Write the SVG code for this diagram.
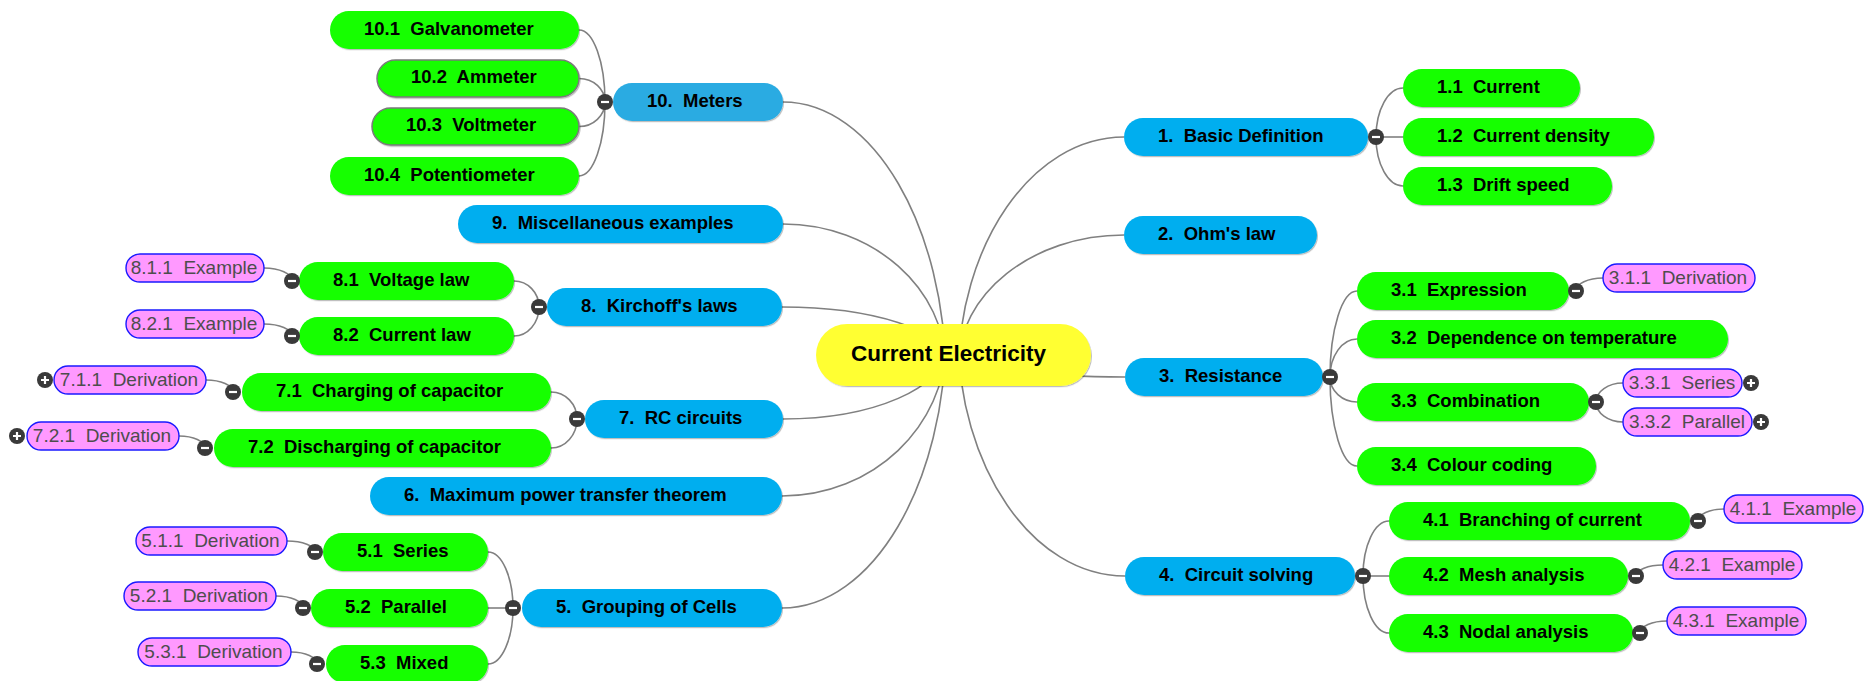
<svg xmlns="http://www.w3.org/2000/svg" xmlns:xlink="http://www.w3.org/1999/xlink" width="1873" height="681" viewBox="0 0 1873 681" xml:space="preserve">
<style>
.c{fill:none;stroke:#808080;stroke-width:1.6}
.ctr{fill:#ffff33;filter:url(#sh)}
.l1{fill:#00aeef;filter:url(#sh)}
.l1m{fill:#29abe2;filter:url(#sh)}
.l2{fill:#12ff00;filter:url(#sh)}
.l2b{fill:#12ff00;stroke:#7a7a7a;stroke-width:1.5;filter:url(#sh)}
.pk{fill:#ff99ff;stroke:#1a1aff;stroke-width:1.4}
text{font-family:"Liberation Sans",Arial,sans-serif;white-space:pre}
.t{font-size:18.5px;font-weight:bold;fill:#000}
.tc{font-size:22.5px;font-weight:bold;fill:#000}
.tp{font-size:19px;fill:#4d4d4d;text-anchor:middle}
.bc{fill:#3a3a3a}
.bs{stroke:#fff;stroke-width:2.2;fill:none}
</style>
<defs>
<filter id="sh" x="-5%" y="-20%" width="110%" height="150%">
<feDropShadow dx="1" dy="1.2" stdDeviation="0.6" flood-color="#000" flood-opacity="0.25"/>
</filter>
<g id="minus"><circle class="bc" r="8"/><path class="bs" d="M-4 0H4"/></g>
<g id="plus"><circle class="bc" r="8"/><path class="bs" d="M-4 0H4M0 -4V4"/></g>
</defs>
<rect width="1873" height="681" fill="#fff"/>

<g id="connectors">
<!-- central topic to main branches -->
<path class="c" d="M783 102C873 102 946 226.6 946 380.3"/>
<path class="c" d="M783 224C873 224 946 288.5 946 368.1"/>
<path class="c" d="M782 307C872.6 307 946 330.6 946 359.8"/>
<path class="c" d="M783 419C873 419 946 387.5 946 348.6"/>
<path class="c" d="M782 496C872.6 496 946 426.6 946 340.9"/>
<path class="c" d="M782 608C872.6 608 946 483.4 946 329.7"/>
<path class="c" d="M1124 137C1032.3 137 958 244.4 958 376.8"/>
<path class="c" d="M1124 235C1032.3 235 958 294.1 958 367"/>
<path class="c" d="M1125 377C1032.8 377 958 366.2 958 352.8"/>
<path class="c" d="M1125 576C1032.8 576 958 467.2 958 332.9"/>
<!-- 1 -->
<path class="c" d="M1403 88C1388.1 88 1376 109.9 1376 137"/>
<path class="c" d="M1376 137H1403"/>
<path class="c" d="M1403 186C1388.1 186 1376 164.1 1376 137"/>
<!-- 3 -->
<path class="c" d="M1357 291C1342.1 291 1330 329.5 1330 377"/>
<path class="c" d="M1357 339C1342.1 339 1330 356 1330 377"/>
<path class="c" d="M1357 402C1342.1 402 1330 390.8 1330 377"/>
<path class="c" d="M1357 466C1342.1 466 1330 426.2 1330 377"/>
<path class="c" d="M1603 278C1588.1 278 1576 283.8 1576 291"/>
<path class="c" d="M1623 383C1608.1 383 1596 391.5 1596 402"/>
<path class="c" d="M1623 422C1608.1 422 1596 413 1596 402"/>
<!-- 4 -->
<path class="c" d="M1389 521C1374.6 521 1363 545.6 1363 576"/>
<path class="c" d="M1363 576H1389"/>
<path class="c" d="M1389 633C1374.6 633 1363 607.5 1363 576"/>
<path class="c" d="M1724 509C1709.6 509 1698 514.4 1698 521"/>
<path class="c" d="M1663 565C1648.1 565 1636 569.9 1636 576"/>
<path class="c" d="M1667 621C1652.1 621 1640 626.4 1640 633"/>
<!-- 10 -->
<path class="c" d="M579 30C593.4 30 605 62.2 605 102"/>
<path class="c" d="M579 78.5C593.4 78.5 605 89 605 102"/>
<path class="c" d="M579 126.5C593.4 126.5 605 115.5 605 102"/>
<path class="c" d="M579 176C593.4 176 605 142.9 605 102"/>
<!-- 8 -->
<path class="c" d="M514 281C527.8 281 539 292.6 539 307"/>
<path class="c" d="M514 336C527.8 336 539 323 539 307"/>
<path class="c" d="M264 268C279.5 268 292 273.8 292 281"/>
<path class="c" d="M264 324C279.5 324 292 329.4 292 336"/>
<!-- 7 -->
<path class="c" d="M551 392C565.4 392 577 404.1 577 419"/>
<path class="c" d="M551 448C565.4 448 577 435 577 419"/>
<path class="c" d="M206 380C220.9 380 233 385.4 233 392"/>
<path class="c" d="M179 436C193.4 436 205 441.4 205 448"/>
<!-- 5 -->
<path class="c" d="M488 552C501.8 552 513 577.1 513 608"/>
<path class="c" d="M488 608H513"/>
<path class="c" d="M488 664C501.8 664 513 638.9 513 608"/>
<path class="c" d="M287 541C302.5 541 315 545.9 315 552"/>
<path class="c" d="M276 596C290.9 596 303 601.4 303 608"/>
<path class="c" d="M291 652C305.4 652 317 657.4 317 664"/>
</g>

<g id="central">
<rect class="ctr" x="816" y="324" width="275" height="62" rx="31"/>
<text class="tc" x="851" y="361">Current Electricity</text>
</g>

<!-- right side -->
<g id="n1"><rect class="l1" x="1124" y="118" width="244" height="38" rx="19"/><text class="t" x="1158" y="141.6">1.  Basic Definition</text><use href="#minus" x="1376" y="137"/></g>
<g id="n1-1"><rect class="l2" x="1403" y="69" width="177" height="38" rx="19"/><text class="t" x="1437" y="92.6">1.1  Current</text></g>
<g id="n1-2"><rect class="l2" x="1403" y="118" width="251" height="38" rx="19"/><text class="t" x="1437" y="141.6">1.2  Current density</text></g>
<g id="n1-3"><rect class="l2" x="1403" y="167" width="209" height="38" rx="19"/><text class="t" x="1437" y="190.6">1.3  Drift speed</text></g>
<g id="n2"><rect class="l1" x="1124" y="216" width="193" height="38" rx="19"/><text class="t" x="1158" y="239.6">2.  Ohm's law</text></g>
<g id="n3"><rect class="l1" x="1125" y="358" width="198" height="38" rx="19"/><text class="t" x="1159" y="381.6">3.  Resistance</text><use href="#minus" x="1330" y="377"/></g>
<g id="n3-1"><rect class="l2" x="1357" y="272" width="212" height="38" rx="19"/><text class="t" x="1391" y="295.6">3.1  Expression</text><use href="#minus" x="1576" y="291"/></g>
<g id="n3-1-1"><rect class="pk" x="1603" y="264" width="152" height="28" rx="14"/><text class="tp" x="1678" y="283.5">3.1.1  Derivation</text></g>
<g id="n3-2"><rect class="l2" x="1357" y="320" width="371" height="38" rx="19"/><text class="t" x="1391" y="343.6">3.2  Dependence on temperature</text></g>
<g id="n3-3"><rect class="l2" x="1357" y="383" width="232" height="38" rx="19"/><text class="t" x="1391" y="406.6">3.3  Combination</text><use href="#minus" x="1596" y="402"/></g>
<g id="n3-3-1"><rect class="pk" x="1623" y="369" width="119" height="28" rx="14"/><text class="tp" x="1682" y="388.5">3.3.1  Series</text><use href="#plus" x="1751" y="383"/></g>
<g id="n3-3-2"><rect class="pk" x="1623" y="408" width="129" height="28" rx="14"/><text class="tp" x="1687" y="427.5">3.3.2  Parallel</text><use href="#plus" x="1761" y="422"/></g>
<g id="n3-4"><rect class="l2" x="1357" y="447" width="239" height="38" rx="19"/><text class="t" x="1391" y="470.6">3.4  Colour coding</text></g>
<g id="n4"><rect class="l1" x="1125" y="557" width="230" height="38" rx="19"/><text class="t" x="1159" y="580.6">4.  Circuit solving</text><use href="#minus" x="1363" y="576"/></g>
<g id="n4-1"><rect class="l2" x="1389" y="502" width="301" height="38" rx="19"/><text class="t" x="1423" y="525.6">4.1  Branching of current</text><use href="#minus" x="1698" y="521"/></g>
<g id="n4-1-1"><rect class="pk" x="1724" y="495" width="139" height="28" rx="14"/><text class="tp" x="1793" y="514.5">4.1.1  Example</text></g>
<g id="n4-2"><rect class="l2" x="1389" y="557" width="239" height="38" rx="19"/><text class="t" x="1423" y="580.6">4.2  Mesh analysis</text><use href="#minus" x="1636" y="576"/></g>
<g id="n4-2-1"><rect class="pk" x="1663" y="551" width="139" height="28" rx="14"/><text class="tp" x="1732" y="570.5">4.2.1  Example</text></g>
<g id="n4-3"><rect class="l2" x="1389" y="614" width="244" height="38" rx="19"/><text class="t" x="1423" y="637.6">4.3  Nodal analysis</text><use href="#minus" x="1640" y="633"/></g>
<g id="n4-3-1"><rect class="pk" x="1667" y="607" width="139" height="28" rx="14"/><text class="tp" x="1736" y="626.5">4.3.1  Example</text></g>

<!-- left side -->
<g id="n10"><rect class="l1m" x="613" y="83" width="170" height="38" rx="19"/><text class="t" x="647" y="106.6">10.  Meters</text><use href="#minus" x="605" y="102"/></g>
<g id="n10-1"><rect class="l2" x="330" y="11" width="249" height="38" rx="19"/><text class="t" x="364" y="34.6">10.1  Galvanometer</text></g>
<g id="n10-2"><rect class="l2b" x="377" y="60" width="202" height="37" rx="18.5"/><text class="t" x="411" y="83.1">10.2  Ammeter</text></g>
<g id="n10-3"><rect class="l2b" x="372" y="108" width="207" height="37" rx="18.5"/><text class="t" x="406" y="131.1">10.3  Voltmeter</text></g>
<g id="n10-4"><rect class="l2" x="330" y="157" width="249" height="38" rx="19"/><text class="t" x="364" y="180.6">10.4  Potentiometer</text></g>
<g id="n9"><rect class="l1" x="458" y="205" width="325" height="38" rx="19"/><text class="t" x="492" y="228.6">9.  Miscellaneous examples</text></g>
<g id="n8"><rect class="l1" x="547" y="288" width="235" height="38" rx="19"/><text class="t" x="581" y="311.6">8.  Kirchoff's laws</text><use href="#minus" x="539" y="307"/></g>
<g id="n8-1"><rect class="l2" x="299" y="262" width="215" height="38" rx="19"/><text class="t" x="333" y="285.6">8.1  Voltage law</text><use href="#minus" x="292" y="281"/></g>
<g id="n8-1-1"><rect class="pk" x="126" y="254" width="138" height="28" rx="14"/><text class="tp" x="194" y="273.5">8.1.1  Example</text></g>
<g id="n8-2"><rect class="l2" x="299" y="317" width="215" height="38" rx="19"/><text class="t" x="333" y="340.6">8.2  Current law</text><use href="#minus" x="292" y="336"/></g>
<g id="n8-2-1"><rect class="pk" x="126" y="310" width="138" height="28" rx="14"/><text class="tp" x="194" y="329.5">8.2.1  Example</text></g>
<g id="n7"><rect class="l1" x="585" y="400" width="198" height="38" rx="19"/><text class="t" x="619" y="423.6">7.  RC circuits</text><use href="#minus" x="577" y="419"/></g>
<g id="n7-1"><rect class="l2" x="242" y="373" width="309" height="38" rx="19"/><text class="t" x="276" y="396.6">7.1  Charging of capacitor</text><use href="#minus" x="233" y="392"/></g>
<g id="n7-1-1"><rect class="pk" x="54" y="366" width="152" height="28" rx="14"/><text class="tp" x="129" y="385.5">7.1.1  Derivation</text><use href="#plus" x="45" y="380"/></g>
<g id="n7-2"><rect class="l2" x="214" y="429" width="337" height="38" rx="19"/><text class="t" x="248" y="452.6">7.2  Discharging of capacitor</text><use href="#minus" x="205" y="448"/></g>
<g id="n7-2-1"><rect class="pk" x="27" y="422" width="152" height="28" rx="14"/><text class="tp" x="102" y="441.5">7.2.1  Derivation</text><use href="#plus" x="17" y="436"/></g>
<g id="n6"><rect class="l1" x="370" y="477" width="412" height="38" rx="19"/><text class="t" x="404" y="500.6">6.  Maximum power transfer theorem</text></g>
<g id="n5"><rect class="l1" x="522" y="589" width="260" height="38" rx="19"/><text class="t" x="556" y="612.6">5.  Grouping of Cells</text><use href="#minus" x="513" y="608"/></g>
<g id="n5-1"><rect class="l2" x="323" y="533" width="165" height="38" rx="19"/><text class="t" x="357" y="556.6">5.1  Series</text><use href="#minus" x="315" y="552"/></g>
<g id="n5-1-1"><rect class="pk" x="136" y="527" width="151" height="28" rx="14"/><text class="tp" x="210.5" y="546.5">5.1.1  Derivation</text></g>
<g id="n5-2"><rect class="l2" x="311" y="589" width="177" height="38" rx="19"/><text class="t" x="345" y="612.6">5.2  Parallel</text><use href="#minus" x="303" y="608"/></g>
<g id="n5-2-1"><rect class="pk" x="124" y="582" width="152" height="28" rx="14"/><text class="tp" x="199" y="601.5">5.2.1  Derivation</text></g>
<g id="n5-3"><rect class="l2" x="326" y="645" width="162" height="38" rx="19"/><text class="t" x="360" y="668.6">5.3  Mixed</text><use href="#minus" x="317" y="664"/></g>
<g id="n5-3-1"><rect class="pk" x="138" y="638" width="153" height="28" rx="14"/><text class="tp" x="213.5" y="657.5">5.3.1  Derivation</text></g>
</svg>
